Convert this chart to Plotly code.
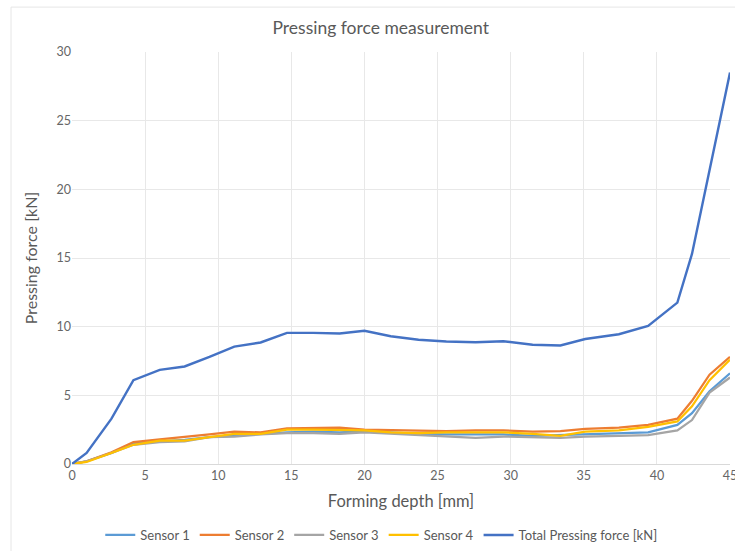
import plotly.graph_objects as go

depth = [0, 1.0, 2.7, 4.2, 6.0, 7.7, 9.4, 11.1, 12.9, 14.7, 16.5, 18.3, 20.0, 21.8,
         23.7, 25.6, 27.6, 29.5, 31.5, 33.4, 35.1, 36.4, 37.4, 39.4, 41.4, 42.4, 43.6, 45.0]

sensor1 = [0, 0.2, 0.8, 1.5, 1.65, 1.75, 1.95, 2.05, 2.2, 2.3, 2.35, 2.3, 2.4, 2.3,
           2.2, 2.15, 2.15, 2.15, 2.05, 2.1, 2.15, 2.2, 2.2, 2.3, 2.85, 3.7, 5.3, 6.6]
sensor2 = [0, 0.2, 0.85, 1.6, 1.8, 1.95, 2.15, 2.35, 2.3, 2.6, 2.6, 2.65, 2.5, 2.45,
           2.4, 2.4, 2.45, 2.45, 2.35, 2.4, 2.55, 2.6, 2.65, 2.85, 3.3, 4.6, 6.5, 7.8]
sensor3 = [0, 0.2, 0.8, 1.4, 1.6, 1.65, 1.95, 2.0, 2.15, 2.25, 2.25, 2.2, 2.3, 2.2,
           2.1, 2.0, 1.9, 2.0, 1.95, 1.9, 2.0, 2.05, 2.05, 2.1, 2.45, 3.2, 5.2, 6.3]
sensor4 = [0, 0.15, 0.8, 1.4, 1.7, 1.7, 1.95, 2.2, 2.2, 2.5, 2.5, 2.5, 2.45, 2.3,
           2.25, 2.3, 2.3, 2.3, 2.2, 2.05, 2.35, 2.4, 2.45, 2.7, 3.1, 4.2, 6.1, 7.6]
total = [0, 0.8, 3.3, 6.1, 6.85, 7.1, 7.8, 8.55, 8.85, 9.55, 9.55, 9.5, 9.7, 9.3,
         9.05, 8.92, 8.87, 8.94, 8.68, 8.63, 9.1, 9.3, 9.45, 10.05, 11.75, 15.3, 21.5, 28.5]

series_names = ["Sensor 1", "Sensor 2", "Sensor 3", "Sensor 4", "Total Pressing force [kN]"]
series_colors = ["#5B9BD5", "#ED7D31", "#A5A5A5", "#FFC000", "#4472C4"]
series_values = [sensor1, sensor2, sensor3, sensor4, total]

FONT = "Lato"
fig = go.Figure()
for name, color, vals in zip(series_names, series_colors, series_values):
    fig.add_trace(go.Scatter(x=depth, y=vals, mode="lines", name=name,
                             line=dict(color=color, width=2.4 if name.startswith("Total") else 2.25)))

fig.update_layout(
    width=735, height=551,
    paper_bgcolor="white", plot_bgcolor="white",
    margin=dict(l=72, r=5, t=52, b=87, autoexpand=False),
    font=dict(family=FONT, color="#595959"),
    title=dict(text="Pressing force measurement", x=0.518, xanchor="center",
               y=0.95, yanchor="middle", font=dict(size=17.5, color="#595959", family=FONT)),
    showlegend=True,
    legend=dict(orientation="h", x=0.47, xanchor="center",
                yref="container", y=0.029, yanchor="middle",
                font=dict(size=13, color="#595959", family=FONT), itemwidth=30,
                traceorder="normal"),
    xaxis=dict(range=[0, 45], dtick=5, tick0=0, showgrid=True, gridcolor="#E8E8E8",
               gridwidth=1, zeroline=False, showline=True, linecolor="#D9D9D9",
               ticks="", tickfont=dict(size=12.5, color="#666666"), automargin=False,
               ticklabeloverflow="allow",
               title=dict(text="Forming depth [mm]", font=dict(size=16.5, color="#595959"),
                          standoff=13)),
    yaxis=dict(range=[0, 30], dtick=5, tick0=0, showgrid=True, gridcolor="#E8E8E8",
               gridwidth=1, zeroline=False, showline=False, ticks="", automargin=False,
               tickfont=dict(size=12.5, color="#666666"),
               title=dict(text="Pressing force [kN]", font=dict(size=16, color="#595959"),
                          standoff=14)),
)

fig.add_shape(type="rect", xref="paper", yref="paper",
              x0=-0.0927, x1=1.05, y0=-0.5, y1=1.109,
              line=dict(color="#E6E6E6", width=1), fillcolor="rgba(0,0,0,0)", layer="below")

fig.write_html("out.html", config={"displayModeBar": False},
               post_script="document.body.style.margin='0';document.body.style.overflow='hidden';")
